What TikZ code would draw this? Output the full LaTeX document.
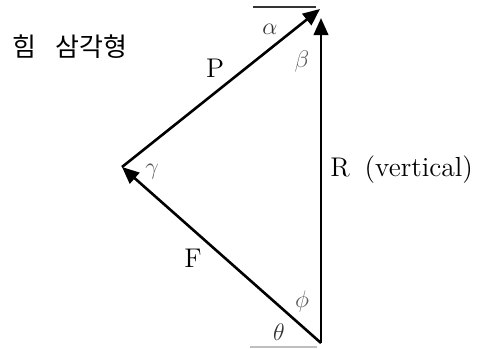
\documentclass[tikz,border=0pt]{standalone}
\usepackage{fontspec}
\newfontfamily\krfont{Noto Sans CJK KR}
\usepackage{tikz}
\usetikzlibrary{arrows.meta}

\begin{document}
\begin{tikzpicture}[
  x=0.5pt, y=-0.5pt,
  vec/.style={-{Triangle[length=8.5pt, width=7.2pt]}, line width=1.3pt},
  ref/.style={line width=0.6pt},
  lbl/.style={font=\fontsize{13.5}{15}\selectfont, inner sep=0pt},
  ang/.style={font=\fontsize{13}{15}\selectfont, inner sep=0pt, text=black!65},
]
\useasboundingbox (0,0) rectangle (478,349);

% vertices of the triangle
\coordinate (bot) at (321,343);
\coordinate (lft) at (122,167);
\coordinate (top) at (320,9);
\coordinate (rtop) at (321,18);

% short reference lines
\coordinate (top-l) at (253,7);
\coordinate (top-r) at (316,7);
\coordinate (bot-l) at (250,347);
\coordinate (bot-r) at (317,347);
\draw[ref, black!80] (top-l) -- (top-r);
\draw[ref, black!25] (bot-l) -- (bot-r);

% force vectors
\draw[vec] (bot) -- (lft);
\draw[vec] (lft) -- (top);
\draw[vec] (bot) -- (rtop);

% title
\node[font=\krfont\fontsize{13}{15}\selectfont, anchor=west, inner sep=0pt] (title) at (12,47) {힘\hspace{0.75em}삼각형};

% vector labels
\node[lbl] (lblP) at (215,68) {P};
\node[lbl] (lblF) at (193,258) {F};
\node[lbl, anchor=west] (lblR) at (330,170) {R\hspace{0.55em}{\fontsize{13.8}{15}\selectfont(vertical)}};

% angles
\node[ang, text=black!80] (alpha) at (270,29) {$\alpha$};
\node[ang] (beta) at (302,61) {$\beta$};
\node[ang] (gamma) at (152,172) {$\gamma$};
\node[ang] (phi) at (302,301) {$\phi$};
\node[ang, text=black!80] (theta) at (279,332) {$\theta$};

\end{tikzpicture}
\end{document}
